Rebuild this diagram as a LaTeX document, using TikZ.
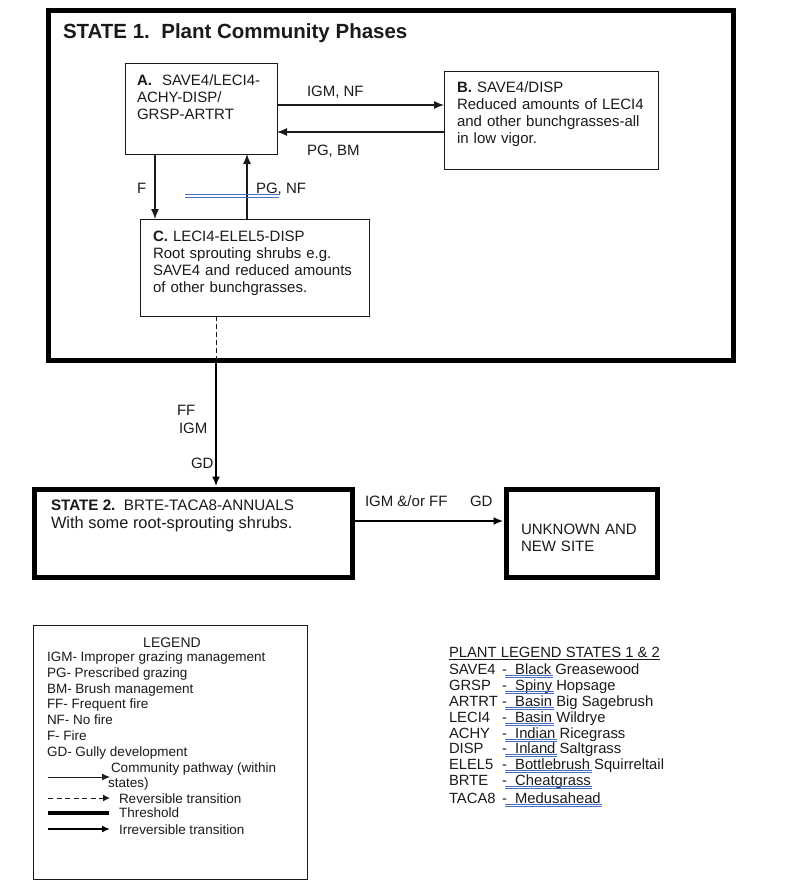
\documentclass[tikz,border=0pt]{standalone}
\usepackage{fontspec}
\setmainfont{Liberation Sans}
\usetikzlibrary{arrows.meta}
\definecolor{ink}{HTML}{1A1A1A}
\definecolor{spell}{RGB}{70,114,196}
\begin{document}
\begin{tikzpicture}[x=1pt,y=-1pt,
  every node/.style={inner sep=0pt, outer sep=0pt, text=ink},
  lbl/.style={anchor=base west, font=\fontsize{15}{17}\selectfont},
  boxtext/.style={anchor=base west, align=left, font=\fontsize{15}{17}\selectfont},
  legtext/.style={anchor=base west, font=\fontsize{13.5}{15.7}\selectfont},
  plant/.style={anchor=base west, font=\fontsize{14.8}{16}\selectfont},
  phasebox/.style={draw=ink, line width=1pt, anchor=north west, rectangle},
  statebox/.style={draw=black, line width=5pt, anchor=north west, rectangle},
  path1/.style={draw=ink, line width=1.2pt, -{Latex[length=10pt,width=8pt]}},
  trans/.style={draw=black, line width=2pt, -{Latex[length=10pt,width=8pt]}},
  spellmark/.style={draw=spell, line width=0.6pt},
]
\useasboundingbox (0,0) rectangle (800,894);

% ---------- State 1 ----------
\node[statebox, minimum width=685pt, minimum height=350pt] (S1) at (48.5,10) {};
\node[anchor=base west, font=\fontsize{20.5}{24}\selectfont\bfseries] (S1title) at (63,38.9) {STATE 1.\ \ Plant Community Phases};

\node[phasebox, minimum width=152pt, minimum height=91pt] (A) at (125,63) {};
\node[boxtext, text width=140pt] (Atext) at (137,85.5) {\textbf{A.}\ \ SAVE4/LECI4-\\ACHY-DISP/\\GRSP-ARTRT};

\node[phasebox, minimum width=214pt, minimum height=98pt] (B) at (444,71) {};
\node[boxtext, text width=200pt] (Btext) at (457,92.5) {\textbf{B.} SAVE4/DISP\\Reduced amounts of LECI4\\and other bunchgrasses-all\\in low vigor.};

\node[phasebox, minimum width=229pt, minimum height=97pt] (C) at (140,219) {};
\node[boxtext, text width=220pt] (Ctext) at (153,241.5) {\textbf{C.} LECI4-ELEL5-DISP\\Root sprouting shrubs e.g.\\SAVE4 and reduced amounts\\of other bunchgrasses.};

% helper coordinates
\coordinate (yAB) at (0,105);
\coordinate (yBA) at (0,132);
\coordinate (xF) at (155,0);
\coordinate (xPG) at (247,0);
\coordinate (xT) at (216,0);
\coordinate (yS) at (0,521);

\draw[path1] (A.east |- yAB) -- (B.west |- yAB);
\draw[path1] (B.west |- yBA) -- (A.east |- yBA);
\draw[path1] (xF |- A.south) -- (xF |- C.north);
\draw[path1] (xPG |- C.north) -- (xPG |- A.south);

\node[lbl] (lIGMNF) at (307,96.5) {IGM, NF};
\node[lbl] (lPGBM) at (307,155.5) {PG, BM};
\node[lbl] (lF) at (137,193.5) {F};
\node[lbl] (lPGNF) at (256,193.5) {PG, NF};

% spell-check marks near PG, NF
\coordinate (sp1a) at (185,194.5);
\coordinate (sp1b) at (279,194.5);
\coordinate (sp2a) at (185,197);
\coordinate (sp2b) at (279,197);
\draw[spellmark] (sp1a) -- (sp1b);
\draw[spellmark] (sp2a) -- (sp2b);

% ---------- transition to State 2 ----------
\draw[draw=ink, line width=1pt, dash pattern=on 5pt off 3pt] (xT |- C.south) -- (xT |- S1.south);
\node[statebox, minimum width=318.5pt, minimum height=88.5pt] (S2) at (34,489) {};
\node[statebox, minimum width=151.5pt, minimum height=88.5pt] (U) at (506,489) {};
\draw[trans, shorten >=2.5pt] (xT |- S1.south) -- (xT |- S2.north);
\draw[trans, shorten <=2.5pt, shorten >=2.5pt] (S2.east |- yS) -- (U.west |- yS);

\node[lbl] (lFF) at (177,415.5) {FF};
\node[lbl] (lIGM) at (179,433.5) {IGM};
\node[lbl] (lGD) at (191,468.5) {GD};
\node[lbl] (lIGMFF) at (365,506.5) {IGM \&/or FF};
\node[lbl] (lGD2) at (470,506.5) {GD};

\node[anchor=base west, font=\fontsize{15.2}{18}\selectfont] (S2text) at (51,510.5) {\textbf{STATE 2.}\ \ BRTE-TACA8-ANNUALS};
\node[anchor=base west, font=\fontsize{16.4}{18}\selectfont] (S2text2) at (51,528.5) {With some root-sprouting shrubs.};
\node[boxtext, text width=140pt] (Utext) at (521,534.5) {UNKNOWN AND\\NEW SITE};

% ---------- Legend ----------
\node[draw=ink, line width=0.8pt, anchor=north west, minimum width=274pt, minimum height=254pt] (LEG) at (33,625) {};
\node[anchor=base, font=\fontsize{14}{16}\selectfont] (LEGt) at (172,647) {LEGEND};
\node[legtext] (g1) at (47,661.8) {IGM- Improper grazing management};
\node[legtext] (g2) at (47,677.5) {PG- Prescribed grazing};
\node[legtext] (g3) at (47,693.2) {BM- Brush management};
\node[legtext] (g4) at (47,708.9) {FF- Frequent fire};
\node[legtext] (g5) at (47,724.6) {NF- No fire};
\node[legtext] (g6) at (47,740.3) {F- Fire};
\node[legtext] (g7) at (47,756) {GD- Gully development};
\node[legtext] (g8) at (111,772) {Community pathway (within};
\node[legtext] (g9) at (108,787) {states)};
\node[legtext] (g10) at (119,803) {Reversible transition};
\node[legtext] (g11) at (119,817.5) {Threshold};
\node[legtext] (g12) at (119,834) {Irreversible transition};

\coordinate (k1a) at (48,777);   \coordinate (k1b) at (110,777);
\coordinate (k2a) at (48,798);   \coordinate (k2b) at (110,798);
\coordinate (k3a) at (48,813);   \coordinate (k3b) at (109,813);
\coordinate (k4a) at (48,829);   \coordinate (k4b) at (110,829);
\draw[draw=ink, line width=1pt, -{Latex[length=8pt,width=7pt]}] (k1a) -- (k1b);
\draw[draw=ink, line width=1pt, dash pattern=on 5pt off 3.5pt, -{Latex[length=7pt,width=7pt]}] (k2a) -- (k2b);
\draw[draw=black, line width=3.5pt] (k3a) -- (k3b);
\draw[draw=black, line width=2.2pt, -{Latex[length=8pt,width=7pt]}] (k4a) -- (k4b);

% ---------- Plant legend ----------
\node[plant] (pl0) at (449,657) {PLANT LEGEND STATES 1 \& 2};
\draw[draw=ink, line width=0.8pt] ([yshift=-2.6pt]pl0.base west) -- ([yshift=-2.6pt]pl0.base east);

\foreach \code/\first/\rest/\yy [count=\i] in {
  SAVE4/Black/{\ Greasewood}/674.3,
  GRSP/Spiny/{\ Hopsage}/690.3,
  ARTRT/Basin/{\ Big Sagebrush}/706.3,
  LECI4/Basin/{\ Wildrye}/722.3,
  ACHY/Indian/{\ Ricegrass}/738.3,
  DISP/Inland/{\ Saltgrass}/753.3,
  ELEL5/Bottlebrush/{\ Squirreltail}/769.3,
  BRTE/Cheatgrass/{}/785.3,
  TACA8/Medusahead/{}/803.3}{
  \node[plant] (pc\i) at (449,\yy) {\code};
  \node[plant] (pd\i) at (502,\yy) {-\ \ \first};
  \node[plant] (pr\i) at (pd\i.base east) {\rest};
  \draw[spellmark] ([xshift=3pt,yshift=-1pt]pd\i.base west) -- ([xshift=1.5pt,yshift=-1pt]pd\i.base east);
  \draw[spellmark] ([xshift=3pt,yshift=-3pt]pd\i.base west) -- ([xshift=1.5pt,yshift=-3pt]pd\i.base east);
}
\end{tikzpicture}
\end{document}
